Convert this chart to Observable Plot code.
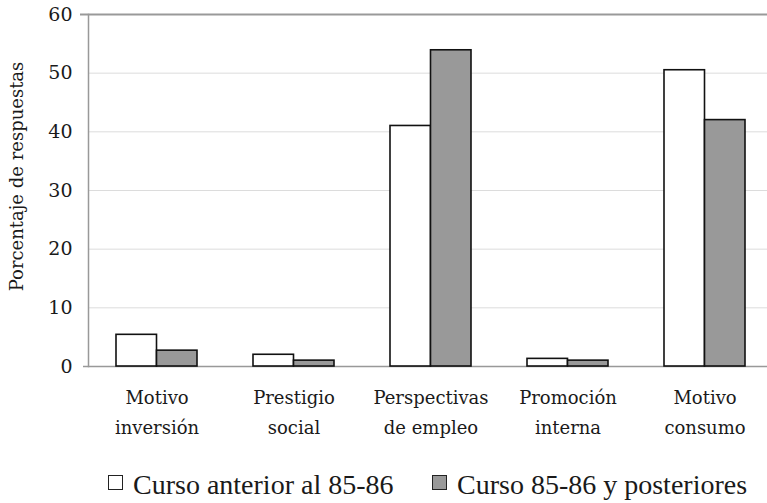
<!DOCTYPE html>
<html>
<head>
<meta charset="utf-8">
<script src="https://cdn.jsdelivr.net/npm/d3@7"></script>
<script src="https://cdn.jsdelivr.net/npm/@observablehq/plot@0.6"></script>
<style>
  body { margin: 0; background: white; }
  #chart { width: 767px; height: 455px; }
  .legend { position: relative; width: 767px; height: 48px; font-family: "Liberation Serif", serif; font-size: 28px; line-height: 28px; color: #1a1a1a; }
  .item { position: absolute; top: 15.5px; display: flex; align-items: flex-start; white-space: nowrap; }
  .sw { width: 15px; height: 15px; border: 1.3px solid #222; margin-right: 10px; box-sizing: border-box; margin-top: 4.5px; }
</style>
</head>
<body>
<div id="chart"></div>
<script>
const categorias = ["Motivo\ninversión", "Prestigio\nsocial", "Perspectivas\nde empleo", "Promoción\ninterna", "Motivo\nconsumo"];
const series = ["Curso anterior al 85-86", "Curso 85-86 y posteriores"];
const serieAnterior = [5.4, 2.0, 41.0, 1.3, 50.5];
const seriePosterior = [2.7, 1.0, 53.9, 1.0, 42.0];
const yTicks = [0, 10, 20, 30, 40, 50, 60];
const colores = ["#ffffff", "#999999"];
const tituloY = "Porcentaje de respuestas";

const datosA = categorias.map((c, i) => ({cat: c, v: serieAnterior[i], serie: series[0]}));
const datosB = categorias.map((c, i) => ({cat: c, v: seriePosterior[i], serie: series[1]}));

const chart = Plot.plot({
  width: 767,
  height: 455,
  marginLeft: 88,
  marginRight: -6,
  marginTop: 14,
  marginBottom: 89,
  style: {fontFamily: "DejaVu Serif", fontSize: "17px", color: "#1a1a1a", background: "white", overflow: "visible"},
  x: {domain: categorias, paddingInner: 0.41, paddingOuter: 0.205},
  y: {domain: [0, 60]},
  color: {domain: series, range: colores},
  marks: [
    Plot.ruleY(yTicks.filter(d => d > 0 && d < 60), {stroke: "#dcdcdc", strokeWidth: 1}),
    Plot.ruleY([60], {stroke: "#999", strokeWidth: 2, insetLeft: -8}),
    Plot.ruleY([0], {stroke: "#999", strokeWidth: 1.5, insetLeft: -5}),
    Plot.frame({anchor: "left", stroke: "#999", strokeWidth: 1.5}),
    Plot.barY(datosA, {x: "cat", y: "v", fill: "serie", stroke: "#111", strokeWidth: 1.6, insetRight: 40.5}),
    Plot.barY(datosB, {x: "cat", y: "v", fill: "serie", stroke: "#111", strokeWidth: 1.6, insetLeft: 40.5}),
    Plot.axisY({ticks: yTicks, tickSize: 0, tickPadding: 16, fontSize: 19, label: null}),
    Plot.axisX({tickSize: 0, tickPadding: 16, fontSize: 18, lineHeight: 1.68, label: null}),
    Plot.text([tituloY], {frameAnchor: "left", textAnchor: "middle", rotate: -90, dx: -71, dy: -14, fontSize: 18, fill: "#1a1a1a"})
  ]
});
document.getElementById("chart").appendChild(chart);

const leg = document.createElement("div");
leg.className = "legend";
const lefts = [108, 432];
series.forEach((s, i) => {
  const it = document.createElement("div");
  it.className = "item";
  it.style.left = lefts[i] + "px";
  const sw = document.createElement("span");
  sw.className = "sw";
  sw.style.background = colores[i];
  const tx = document.createElement("span");
  tx.textContent = s;
  it.appendChild(sw);
  it.appendChild(tx);
  leg.appendChild(it);
});
document.body.appendChild(leg);
</script>
</body>
</html>
